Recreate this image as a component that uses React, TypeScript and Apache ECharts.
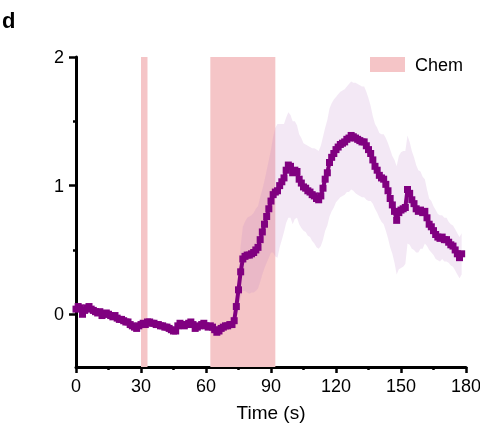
import React, { useEffect, useRef } from "react";
import * as echarts from "echarts";

// Time step (s) between samples; sample i is at t = i
const T_START = 0;
const T_STEP = 1;

// Mean response per second
const meanValues = [
  0.04, 0.06, 0.05, 0.0, 0.03, 0.05, 0.06, 0.04, 0.03, 0.02,
  0.01, 0.02, -0.01, 0.0, 0.01, 0.0, -0.01, -0.02, -0.01, -0.03,
  -0.04, -0.04, -0.05, -0.06, -0.06, -0.08, -0.09, -0.1, -0.11, -0.09,
  -0.08, -0.07, -0.08, -0.06, -0.06, -0.07, -0.07, -0.08, -0.08, -0.09,
  -0.09, -0.1, -0.1, -0.11, -0.12, -0.13, -0.13, -0.09, -0.07, -0.08,
  -0.09, -0.08, -0.07, -0.06, -0.08, -0.11, -0.1, -0.09, -0.08, -0.07,
  -0.09, -0.1, -0.09, -0.1, -0.12, -0.14, -0.13, -0.11, -0.1, -0.09,
  -0.09, -0.08, -0.08, -0.05, 0.06, 0.19, 0.33, 0.43, 0.45, 0.46,
  0.46, 0.47, 0.48, 0.5, 0.52, 0.58, 0.64, 0.7, 0.76, 0.82,
  0.88, 0.93, 0.95, 0.96, 1.0, 1.03, 1.06, 1.12, 1.16, 1.15,
  1.1, 1.12, 1.11, 1.05, 1.02, 0.99, 0.98, 0.96, 0.95, 0.93,
  0.92, 0.9, 0.89, 0.92, 0.98, 1.05, 1.1, 1.18, 1.22, 1.25,
  1.28, 1.3, 1.32, 1.33, 1.34, 1.36, 1.37, 1.39, 1.38, 1.37,
  1.36, 1.35, 1.34, 1.34, 1.31, 1.28, 1.25, 1.2, 1.15, 1.12,
  1.08, 1.06, 1.05, 1.01, 0.96, 0.9, 0.85, 0.8, 0.73, 0.79,
  0.81, 0.82, 0.83, 0.97, 0.94, 0.89, 0.86, 0.82, 0.8, 0.81,
  0.79, 0.8, 0.75, 0.7, 0.68, 0.65, 0.62, 0.6, 0.59, 0.6,
  0.58, 0.58, 0.56, 0.54, 0.53, 0.5, 0.47, 0.44, 0.47,
];

// Error (SEM) per second
const errValues = [
  0.02, 0.02, 0.02, 0.02, 0.02, 0.02, 0.02, 0.02, 0.02, 0.02,
  0.02, 0.02, 0.02, 0.02, 0.02, 0.02, 0.02, 0.02, 0.02, 0.02,
  0.02, 0.02, 0.02, 0.02, 0.02, 0.02, 0.02, 0.02, 0.02, 0.02,
  0.02, 0.02, 0.02, 0.02, 0.02, 0.02, 0.02, 0.02, 0.02, 0.02,
  0.02, 0.02, 0.02, 0.02, 0.02, 0.02, 0.02, 0.02, 0.02, 0.02,
  0.02, 0.02, 0.02, 0.02, 0.02, 0.02, 0.02, 0.02, 0.02, 0.02,
  0.02, 0.02, 0.02, 0.02, 0.02, 0.02, 0.02, 0.02, 0.02, 0.02,
  0.02, 0.02, 0.02, 0.05, 0.1, 0.15, 0.2, 0.25, 0.27, 0.29,
  0.3, 0.3, 0.31, 0.32, 0.32, 0.33, 0.33, 0.34, 0.36, 0.38,
  0.4, 0.45, 0.5, 0.52, 0.48, 0.45, 0.42, 0.41, 0.41, 0.4,
  0.4, 0.38, 0.36, 0.35, 0.35, 0.34, 0.34, 0.35, 0.35, 0.36,
  0.37, 0.38, 0.38, 0.39, 0.4, 0.4, 0.41, 0.42, 0.42, 0.42,
  0.41, 0.41, 0.41, 0.41, 0.41, 0.41, 0.42, 0.42, 0.42, 0.43,
  0.43, 0.43, 0.43, 0.43, 0.42, 0.4, 0.37, 0.34, 0.33, 0.33,
  0.33, 0.34, 0.35, 0.36, 0.37, 0.38, 0.38, 0.4, 0.42, 0.44,
  0.45, 0.45, 0.44, 0.42, 0.4, 0.38, 0.36, 0.34, 0.32, 0.3,
  0.28, 0.25, 0.22, 0.2, 0.2, 0.19, 0.19, 0.18, 0.18, 0.17,
  0.17, 0.17, 0.16, 0.16, 0.16, 0.16, 0.16, 0.16, 0.16,
];

// Chemical stimulation windows (s)
const chemWindows: [number, number][] = [
  [30, 33],
  [62, 92],
];

const xTicks = [0, 30, 60, 90, 120, 150, 180];
const yTicks = [0, 1, 2];
const yMinorTicks = [0.5, 1.5];

const PURPLE = "#800080";
const PINK = "#f5c5c7";
const BAND = "rgba(190,130,200,0.18)";
const FONT = "Liberation Sans, Arial, sans-serif";

export default function App() {
  const ref = useRef<HTMLDivElement>(null);

  useEffect(() => {
    if (!ref.current) return;
    const chart = echarts.init(ref.current, undefined, { renderer: "svg" });

    const times = meanValues.map((_, i) => T_START + i * T_STEP);
    const meanData = meanValues.map((v, i) => [times[i], v]);

    const renderBand = (params: any, api: any) => {
      const upper = meanValues.map((v, i) => api.coord([times[i], v + errValues[i]]));
      const lower = meanValues
        .map((v, i) => api.coord([times[i], v - errValues[i]]))
        .reverse();
      return {
        type: "polygon",
        shape: { points: upper.concat(lower) },
        style: { fill: BAND },
        silent: true,
      };
    };

    chart.setOption({
      animation: false,
      grid: {
        left: 76,
        right: 14,
        top: 57,
        bottom: 57,
        containLabel: false,
        outerBoundsMode: "none",
      },
      xAxis: {
        type: "value",
        min: 0,
        max: 180,
        interval: 30,
        name: "Time (s)",
        nameLocation: "middle",
        nameGap: 36,
        nameTextStyle: { fontFamily: FONT, fontSize: 19, color: "#000" },
        axisLine: { show: true, onZero: false, lineStyle: { color: "#000", width: 3 } },
        axisTick: { show: true, length: 6, lineStyle: { color: "#000", width: 2.5 } },
        minorTick: { show: true, splitNumber: 2, length: 3, lineStyle: { color: "#000", width: 2.5 } },
        axisLabel: {
          fontFamily: FONT,
          fontSize: 18,
          color: "#000",
          margin: 10,
          customValues: xTicks,
        },
        splitLine: { show: false },
      },
      yAxis: [
        {
          type: "value",
          min: -0.41,
          max: 2,
          axisLine: { show: true, lineStyle: { color: "#000", width: 3 } },
          axisTick: {
            show: true,
            length: 7,
            customValues: yTicks,
            lineStyle: { color: "#000", width: 2.5 },
          },
          axisLabel: {
            fontFamily: FONT,
            fontSize: 18,
            color: "#000",
            margin: 12,
            customValues: yTicks,
          },
          splitLine: { show: false },
        },
        {
          type: "value",
          position: "left",
          min: -0.41,
          max: 2,
          axisLine: { show: false },
          axisTick: {
            show: true,
            length: 3,
            customValues: yMinorTicks,
            lineStyle: { color: "#000", width: 2.5 },
          },
          axisLabel: { show: false },
          splitLine: { show: false },
        },
      ],
      series: [
        {
          type: "line",
          name: "chem",
          data: [],
          silent: true,
          z: 1,
          markArea: {
            silent: true,
            itemStyle: { color: PINK, opacity: 1 },
            data: chemWindows.map(([a, b]) => [{ xAxis: a }, { xAxis: b }]),
          },
        },
        {
          type: "custom",
          name: "band",
          data: [0],
          renderItem: renderBand,
          silent: true,
          z: 2,
        },
        {
          type: "line",
          name: "mean",
          data: meanData,
          symbol: "rect",
          symbolSize: 7,
          showAllSymbol: true,
          lineStyle: { color: PURPLE, width: 4 },
          itemStyle: { color: PURPLE },
          silent: true,
          z: 3,
        },
      ],
      graphic: [
        {
          type: "text",
          left: 2,
          top: 9,
          style: {
            text: "d",
            fontFamily: FONT,
            fontSize: 22,
            fontWeight: "bold",
            fill: "#000",
          },
        },
        {
          type: "rect",
          shape: { x: 370, y: 57, width: 35, height: 15 },
          style: { fill: PINK },
        },
        {
          type: "text",
          x: 415,
          y: 65,
          style: {
            text: "Chem",
            fontFamily: FONT,
            fontSize: 18,
            fill: "#000",
            verticalAlign: "middle",
          },
        },
      ],
    });

    return () => chart.dispose();
  }, []);

  return (
    <div
      ref={ref}
      style={{ position: "fixed", left: 0, top: 0, width: 480, height: 424 }}
    />
  );
}
